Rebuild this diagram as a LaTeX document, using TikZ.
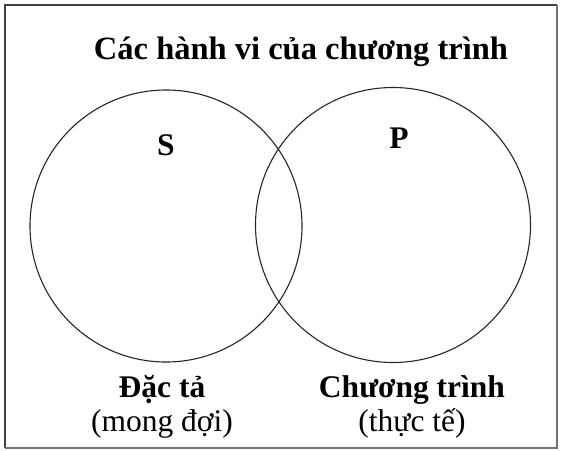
\documentclass[tikz,border=0pt]{standalone}
\usepackage{fontspec}
\setmainfont{Liberation Serif}
\begin{document}
\begin{tikzpicture}[x=1pt,y=-1pt,
  setcircle/.style={draw=black!85,line width=1.1pt},
  boldtxt/.style={font=\fontsize{31.5}{31.5}\selectfont\bfseries,inner sep=0pt,anchor=base},
  normtxt/.style={font=\fontsize{31.5}{31.5}\selectfont,inner sep=0pt,anchor=base},
  frame/.style={draw=black!75,line width=1.3pt}]
\useasboundingbox (0,0) rectangle (561,450);
\fill[white] (0,0) rectangle (561,450);
\draw[frame] (5,448) -- (5,5) -- (557,5);
\draw[draw=black!55,line width=1.3pt] (557,5) -- (557,448) -- (5,448);
\node[setcircle,circle,minimum size=272pt,inner sep=0pt] (S) at (166,226) {};
\node[setcircle,circle,minimum size=275pt,inner sep=0pt] (P) at (393,225) {};
\node[boldtxt,font=\fontsize{32.5}{32.5}\selectfont\bfseries] (title) at (301,59) {Các hành vi của chương trình};
\node[boldtxt] (slab) at (166,155) {S};
\node[boldtxt] (plab) at (399,148) {P};
\node[boldtxt] (dacta) at (162,397) {Đặc tả};
\node[normtxt] (mongdoi) at (162,431) {(mong đợi)};
\node[boldtxt] (ctrinh) at (412,397) {Chương trình};
\node[normtxt] (thucte) at (412,431) {(thực tế)};
\end{tikzpicture}
\end{document}
